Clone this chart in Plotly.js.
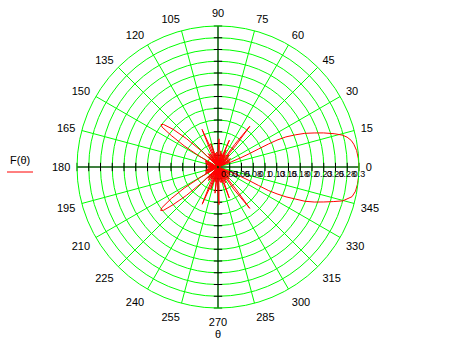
<!DOCTYPE html>
<html>
<head>
<meta charset="utf-8">
<script src="https://cdn.plot.ly/plotly-3.0.1.min.js"></script>
<style>html,body{margin:0;padding:0;background:#fff;}#chart{width:466px;height:351px;}</style>
</head>
<body>
<div id="chart"></div>
<script>
// Pattern curve F(theta), points in drawing order (theta in degrees)
var thetaDeg = [
  0,3.5,6.8,9.5,11.3,13,14.4,16,17.9,19.5,21.2,22.6,23.9,24.5,24.5,24,23,22,21,20.5,21,
  25,27,29,32,34,36,39,41,43,46,47.5,49,50.5,52,53.5,55,57.5,59,61,63,64.5,66,67,68.5,70,
  72,74,75.5,78,79.5,81,83,85,86.5,88,89.5,91,93,95,97,99,101,102.5,105,107,109,111,113,114.5,116,
  118,120,122,124,126,128,130,131.5,133,
  134.5,136,138,140,142,143.3,144.5,146,148,150,152,
  153.5,155,156.5,159,161,163,166,168,170,173,175,177,180,
  183,185,187,190,192,194,197,199,201,204,206,208,
  209,210.5,212,214,216,217.2,218.5,220,222,224,226,
  227.5,229,230.5,233,235,237,239,241,243,245,247,248.5,250,252,253.5,255,257,259,261,262,263.5,265,267,
  269,271.5,273,275,277,279,281,283,285,287,288.5,290,291.5,293,295,296.5,298,300,302,304,
  305.5,307.5,309,310.5,312,313.5,315,318,320,322,325,327,329,332,334,336,
  338.5,339,338.5,337.5,336.5,335.5,335,335.5,336.3,337.5,338.5,340,341.7,343.3,344.8,347.5,350,353,356.5,360
];
var F = [
  0.300,0.299,0.297,0.293,0.289,0.282,0.273,0.257,0.236,0.217,0.198,0.178,0.158,0.138,0.118,0.095,0.072,0.050,0.030,0.012,0.002,
  0.020,0.028,0.004,0.025,0.032,0.004,0.022,0.030,0.003,0.028,0.035,0.010,0.060,0.110,0.060,0.004,0.026,0.030,0.004,0.030,0.040,0.010,0.062,0.030,0.003,
  0.022,0.030,0.004,0.025,0.035,0.004,0.020,0.030,0.045,0.060,0.030,0.003,0.025,0.032,0.004,0.022,0.030,0.006,0.035,0.052,0.010,0.045,0.087,0.040,0.004,
  0.025,0.032,0.005,0.028,0.035,0.005,0.022,0.030,0.004,
  0.012,0.050,0.090,0.125,0.147,0.151,0.146,0.120,0.085,0.045,0.010,
  0.025,0.030,0.004,0.022,0.028,0.004,0.020,0.025,0.003,0.018,0.022,0.003,0.015,
  0.003,0.022,0.018,0.003,0.025,0.020,0.004,0.028,0.022,0.004,0.030,0.025,
  0.004,0.045,0.085,0.120,0.148,0.153,0.148,0.125,0.090,0.050,0.010,
  0.025,0.032,0.004,0.030,0.035,0.005,0.025,0.030,0.004,0.040,0.086,0.045,0.006,0.050,0.030,0.004,0.025,0.032,0.006,0.030,0.056,0.020,0.004,
  0.040,0.080,0.040,0.004,0.028,0.033,0.004,0.025,0.035,0.006,0.035,0.070,0.035,0.004,0.030,0.038,0.006,0.025,0.032,0.004,
  0.060,0.111,0.060,0.004,0.030,0.035,0.004,0.028,0.032,0.004,0.025,0.030,0.004,0.020,0.028,0.004,
  0.003,0.012,0.030,0.050,0.072,0.095,0.118,0.138,0.158,0.178,0.199,0.218,0.237,0.256,0.275,0.292,0.297,0.299,0.300,0.300
];
// Radial ticks and labels
var radialTicks = [0.025,0.05,0.075,0.1,0.125,0.15,0.175,0.2,0.225,0.25,0.275,0.3];
var radialLabels = ["0.03","0.05","0.08","0.1","0.13","0.15","0.18","0.2","0.23","0.25","0.28","0.3"];
// Angular ticks
var angleTicks = [0,15,30,45,60,75,90,105,120,135,150,165,180,195,210,225,240,255,270,285,300,315,330,345];
var angleLabels = angleTicks.map(String);
var rMax = 0.3;

var traces = [];
// black cross axes through the pole
traces.push({type:'scatterpolar', mode:'lines', r:[rMax,0,rMax], theta:[0,0,180],
  line:{color:'#000',width:1}, hoverinfo:'skip', showlegend:false});
traces.push({type:'scatterpolar', mode:'lines', r:[rMax,0,rMax], theta:[90,0,270],
  line:{color:'#000',width:1}, hoverinfo:'skip', showlegend:false});
// tick marks on the cross axes
var hr = radialTicks.concat(radialTicks);
traces.push({type:'scatterpolar', mode:'markers', r:hr,
  theta:radialTicks.map(function(){return 0;}).concat(radialTicks.map(function(){return 180;})),
  marker:{symbol:'line-ns', size:6, line:{color:'#000',width:1}}, hoverinfo:'skip', showlegend:false});
traces.push({type:'scatterpolar', mode:'markers', r:hr,
  theta:radialTicks.map(function(){return 90;}).concat(radialTicks.map(function(){return 270;})),
  marker:{symbol:'line-ew', size:6, line:{color:'#000',width:1}}, hoverinfo:'skip', showlegend:false});
// the pattern
traces.push({type:'scatterpolar', mode:'lines', r:F, theta:thetaDeg, name:'F(θ)',
  line:{color:'#ff0000',width:1}, showlegend:false});

var W=466,H=351, cx=218, cy=167, R=141;
var layout = {
  width:W, height:H,
  margin:{l:0,r:0,t:0,b:0},
  paper_bgcolor:'#fff',
  font:{family:'Arial, "Liberation Sans", sans-serif', size:11, color:'#000'},
  showlegend:false,
  polar:{
    domain:{x:[(cx-R)/W,(cx+R)/W], y:[(H-cy-R)/H,(H-cy+R)/H]},
    bgcolor:'#fff',
    radialaxis:{range:[0,rMax], tickvals:radialTicks, ticktext:radialLabels, angle:0, tickangle:0,
      side:'clockwise', showline:false, ticks:'', gridcolor:'#00ff00', gridwidth:1,
      tickfont:{size:9, color:'#000'}},
    angularaxis:{rotation:0, direction:'counterclockwise', tickvals:angleTicks, ticktext:angleLabels,
      gridcolor:'#00ff00', gridwidth:1, showline:true, linecolor:'#00ff00', linewidth:1,
      ticks:'outside', ticklen:4, tickcolor:'rgba(0,0,0,0)',
      tickfont:{size:11, color:'#000'}}
  },
  annotations:[
    {xref:'paper', yref:'paper', x:20/W, y:1-160/H, xanchor:'center', yanchor:'middle', text:'F(θ)', showarrow:false,
     font:{size:11, color:'#000'}},
    {xref:'paper', yref:'paper', x:cx/W, y:1-334/H, xanchor:'center', yanchor:'middle', text:'θ', showarrow:false,
     font:{size:11, color:'#000'}}
  ],
  shapes:[
    {type:'line', xref:'paper', yref:'paper', x0:7/W, x1:33/W, y0:1-172/H, y1:1-172/H,
     line:{color:'#ff0000', width:1}}
  ]
};
Plotly.newPlot('chart', traces, layout, {staticPlot:true, displayModeBar:false});
</script>
</body>
</html>
